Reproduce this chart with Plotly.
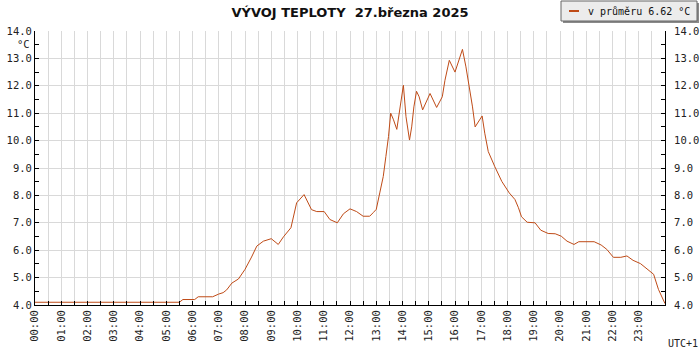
import plotly.graph_objects as go

# ---- data (time of day, temperature °C) ----
times = ["00:00", "05:30", "05:38", "06:05", "06:13", "06:46", "07:00", "07:10", "07:18",
         "07:30", "07:45", "08:00", "08:15", "08:27", "08:42", "09:00", "09:16", "09:28",
         "09:45", "09:58", "10:06", "10:15", "10:32", "10:44", "11:01", "11:14", "11:31",
         "11:45", "12:00", "12:15", "12:30", "12:45", "12:53", "13:00", "13:08", "13:16",
         "13:22", "13:28", "13:33", "13:39", "13:47", "13:53", "13:58", "14:02", "14:08",
         "14:16", "14:21", "14:26", "14:32", "14:38", "14:46", "14:55", "15:03", "15:18",
         "15:31", "15:37", "15:47", "16:00", "16:10", "16:17", "16:25", "16:33", "16:40",
         "16:46", "16:53", "17:02", "17:08", "17:16", "17:31", "17:47", "18:04", "18:17",
         "18:25", "18:32", "18:45", "19:03", "19:16", "19:33", "19:49", "20:03", "20:16",
         "20:32", "20:43", "21:18", "21:34", "21:47", "22:02", "22:19", "22:33", "22:47",
         "23:04", "23:18", "23:34", "23:45", "24:00"]
temps = [4.1, 4.1, 4.2, 4.2, 4.3, 4.3, 4.4, 4.45, 4.55,
         4.8, 4.95, 5.3, 5.75, 6.15, 6.33, 6.42, 6.21, 6.49,
         6.82, 7.73, 7.87, 8.03, 7.48, 7.41, 7.41, 7.12, 7.0,
         7.33, 7.51, 7.41, 7.24, 7.24, 7.37, 7.49, 8.09, 8.69,
         9.42, 10.15, 11.0, 10.78, 10.41, 11.11, 11.65, 12.02, 10.87,
         10.02, 10.5, 11.23, 11.8, 11.6, 11.12, 11.42, 11.72, 11.21,
         11.6, 12.2, 12.93, 12.5, 12.99, 13.33, 12.69, 11.96, 11.23,
         10.5, 10.68, 10.9, 10.27, 9.6, 9.05, 8.51, 8.09, 7.85,
         7.55, 7.22, 7.02, 7.0, 6.73, 6.61, 6.6, 6.51, 6.33,
         6.21, 6.31, 6.31, 6.19, 6.03, 5.74, 5.74, 5.79, 5.63,
         5.51, 5.33, 5.12, 4.57, 4.05]

hour_labels = ["%02d:00" % h for h in range(24)]
series_name = "v průměru 6.62 °C"
title_text = "VÝVOJ TEPLOTY \u00a027.března 2025"
unit_label = "°C"
tz_label = "UTC+1"
y_ticks = [4.0, 5.0, 6.0, 7.0, 8.0, 9.0, 10.0, 11.0, 12.0, 13.0, 14.0]


def to_dt(t):
    if t == "24:00":
        return "2025-03-28 00:00"
    return "2025-03-27 " + t


x_vals = [to_dt(t) for t in times]
hour_vals = [to_dt(t) for t in hour_labels]
half_vals = ["2025-03-27 %02d:30" % h for h in range(24)]

LINE_COLOR = "#bf4b17"
GRID = "#d9d9d9"
MONO = "DejaVu Sans Mono"

# plot area in pixels (for decorations placed in paper coords)
L, R, T, B = 35, 665, 31, 305


def px(x):
    return (x - L) / (R - L)


def py(y):
    return (B - y) / (B - T)


fig = go.Figure()
fig.add_trace(go.Scatter(x=x_vals, y=temps, mode="lines", name=series_name,
                         line=dict(color=LINE_COLOR, width=1), showlegend=False,
                         hoverinfo="x+y"))
# invisible trace to carry the right-hand axis
fig.add_trace(go.Scatter(x=[x_vals[0]], y=[temps[0]], yaxis="y2", mode="markers",
                         marker=dict(opacity=0), showlegend=False, hoverinfo="skip"))

fig.update_layout(
    width=700, height=350,
    margin=dict(l=L, r=700 - R, t=T, b=350 - B, pad=0, autoexpand=False),
    paper_bgcolor="white", plot_bgcolor="white",
    title=dict(text=title_text, x=0.5, xref="container", xanchor="center",
               y=1 - 12 / 350, yref="container", yanchor="middle", automargin=False,
               font=dict(family="DejaVu Sans", size=13, color="#111111", weight="bold")),
    xaxis=dict(
        type="date", automargin=False,
        range=["2025-03-27 00:00", "2025-03-28 00:00"],
        tickmode="array", tickvals=hour_vals, ticktext=hour_labels,
        tickangle=-90, ticks="inside", ticklen=4, tickcolor="black",
        showgrid=True, gridcolor=GRID, gridwidth=1,
        showline=True, linecolor="black", linewidth=1,
        zeroline=False,
        tickfont=dict(family=MONO, size=10.5, color="#222222"),
        minor=dict(tickmode="array", tickvals=half_vals, ticks="inside", ticklen=4,
                   tickcolor="black", showgrid=True, gridcolor=GRID, gridwidth=1),
        fixedrange=True,
    ),
    yaxis=dict(
        range=[4, 14], tickmode="array", tickvals=y_ticks, automargin=False,
        ticktext=["%.1f" % v for v in y_ticks],
        ticks="inside", ticklen=4, tickcolor="black",
        showgrid=True, gridcolor=GRID, gridwidth=1,
        showline=True, linecolor="black", linewidth=1, zeroline=False,
        tickfont=dict(family=MONO, size=10.5, color="#222222"),
        minor=dict(dtick=0.5, ticks="inside", ticklen=4, tickcolor="black", showgrid=False),
        fixedrange=True,
    ),
    yaxis2=dict(
        range=[4, 14], overlaying="y", side="right", tickmode="array", tickvals=y_ticks,
        ticktext=["%.1f" % v for v in y_ticks], automargin=False,
        ticks="inside", ticklen=4, tickcolor="black",
        showgrid=False, showline=True, linecolor="black", linewidth=1, zeroline=False,
        tickfont=dict(family=MONO, size=10.5, color="#222222"),
        ticklabelstandoff=6,
        minor=dict(dtick=0.5, ticks="inside", ticklen=4, tickcolor="black", showgrid=False),
        fixedrange=True,
    ),
    showlegend=False,
)

# legend box (manual, matching the reference's small swatch)
shapes = [
    dict(type="rect", xref="paper", yref="paper", x0=px(563), x1=px(699), y0=py(23), y1=py(3),
         fillcolor="#8a8a8a", line=dict(width=0), layer="above"),
    dict(type="rect", xref="paper", yref="paper", x0=px(561), x1=px(697), y0=py(21), y1=py(1),
         fillcolor="#ececec", line=dict(color="#666666", width=1), layer="above"),
    dict(type="line", xref="paper", yref="paper", x0=px(569), x1=px(579), y0=py(11), y1=py(11),
         line=dict(color=LINE_COLOR, width=2), layer="above"),
]
fig.update_layout(shapes=shapes)

fig.add_annotation(text=series_name, xref="paper", yref="paper", x=px(586), y=py(11),
                   xanchor="left", yanchor="middle", showarrow=False,
                   font=dict(family=MONO, size=10, color="#111111"))
fig.add_annotation(text=unit_label, xref="paper", yref="paper", x=px(23), y=py(44),
                   xanchor="center", yanchor="middle", showarrow=False,
                   font=dict(family=MONO, size=10.5, color="#222222"))
fig.add_annotation(text=tz_label, xref="paper", yref="paper", x=px(683), y=py(343),
                   xanchor="center", yanchor="middle", showarrow=False,
                   font=dict(family=MONO, size=10, color="#222222"))

fig.write_html("out.html", config={"displayModeBar": False},
               post_script="document.body.style.margin='0px';document.body.style.overflow='hidden';")
